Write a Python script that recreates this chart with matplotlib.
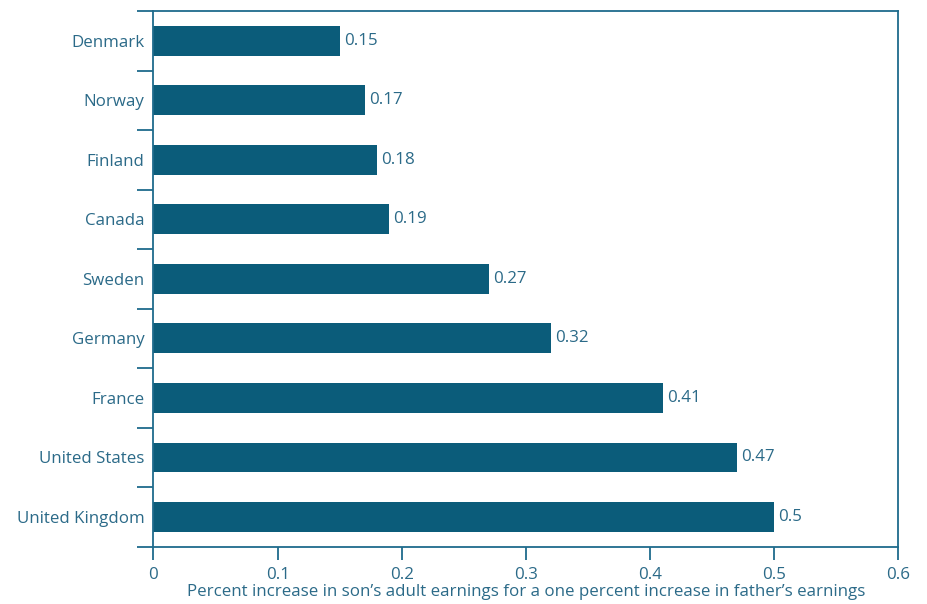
import numpy as np
import matplotlib
matplotlib.use("Agg")
import matplotlib.pyplot as plt

countries = ["Denmark", "Norway", "Finland", "Canada", "Sweden", "Germany",
             "France", "United States", "United Kingdom"]
elasticity = [0.15, 0.17, 0.18, 0.19, 0.27, 0.32, 0.41, 0.47, 0.5]
value_labels = ["0.15", "0.17", "0.18", "0.19", "0.27", "0.32", "0.41", "0.47", "0.5"]
xticks = [0, 0.1, 0.2, 0.3, 0.4, 0.5, 0.6]
xtick_labels = ["0", "0.1", "0.2", "0.3", "0.4", "0.5", "0.6"]

bar_color = "#0b5c7a"
text_color = "#2b6a88"
line_color = "#1f6b8c"

plt.rcParams['font.family'] = ['Open Sans', 'DejaVu Sans']
fs = 12.2

fig = plt.figure(figsize=(9.28, 6.04), dpi=100)
ax = fig.add_axes([153.5 / 928, 57.3 / 604, 745 / 928, 535.7 / 604])

y = np.arange(len(countries))
bars = ax.barh(y, elasticity, height=0.5, color=bar_color)
ax.bar_label(bars, labels=value_labels, padding=3, color=text_color, fontsize=fs)

ax.set_xlim(0, 0.6)
ax.set_ylim(len(countries) - 0.5, -0.5)

# category names in the middle, tick marks between the bars
ax.set_yticks(y)
ax.set_yticklabels(countries)
ax.set_yticks(np.arange(len(countries) + 1) - 0.5, minor=True)
ax.tick_params(axis="y", which="major", length=0, pad=6.5, labelsize=fs, labelcolor=text_color)
ax.tick_params(axis="y", which="minor", length=11.5, width=1.3, color=line_color, direction="out")

ax.set_xticks(xticks)
ax.set_xticklabels(xtick_labels)
ax.tick_params(axis="x", length=9.4, width=1.3, color=line_color, direction="out",
               pad=5, labelsize=fs, labelcolor=text_color)

ax.set_xlabel("Percent increase in son\u2019s adult earnings for a one percent increase in father\u2019s earnings",
              fontsize=fs, color=text_color, labelpad=1)

for s in ax.spines.values():
    s.set_color(line_color)
    s.set_linewidth(1.3)

fig.savefig("out.png", dpi=100)
